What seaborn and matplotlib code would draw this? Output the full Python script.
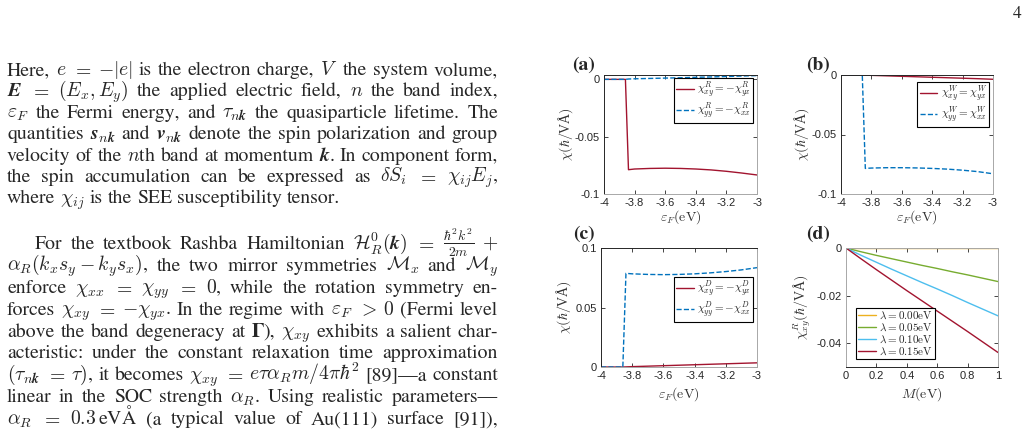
import matplotlib
matplotlib.use('Agg')
import matplotlib.pyplot as plt
import seaborn as sns

# Fermi energy grid for panels (a)-(c)
ef = [-4.0, -3.86, -3.84, -3.8, -3.7, -3.6, -3.5, -3.4, -3.3, -3.2, -3.1, -3.0]
# (a) Rashba part
chi_R_xy = [0, 0, -0.0788, -0.0782, -0.0777, -0.0775, -0.0777, -0.0782, -0.0790, -0.0802, -0.0817, -0.0834]
chi_R_yy = [0, 0, 0.0003, 0.0005, 0.0008, 0.0011, 0.0014, 0.0018, 0.0021, 0.0025, 0.0029, 0.0033]
# (b) Weyl part
chi_W_xy = [0, 0, -0.0001, -0.0003, -0.0007, -0.0011, -0.0015, -0.0019, -0.0023, -0.0027, -0.0031, -0.0036]
chi_W_yy = [0, 0, -0.0785, -0.0782, -0.0779, -0.0779, -0.0781, -0.0785, -0.0791, -0.0800, -0.0812, -0.0830]
# (c) Dresselhaus part
chi_D_xy = [0, 0, 0.0001, 0.0003, 0.0007, 0.0011, 0.0015, 0.0019, 0.0023, 0.0027, 0.0031, 0.0035]
chi_D_yy = [0, 0, 0.0787, 0.0783, 0.0778, 0.0776, 0.0778, 0.0783, 0.0791, 0.0802, 0.0816, 0.0835]
# (d) chi^R_xy vs M for several lambda
M = [0, 0.1, 0.2, 0.3, 0.4, 0.5, 0.6, 0.7, 0.8, 0.9, 1.0]
chi_l000 = [0, 0, 0, 0, 0, 0, 0, 0, 0, 0, 0]
chi_l005 = [0, -0.0016, -0.0031, -0.0045, -0.0059, -0.0073, -0.0086, -0.0100, -0.0113, -0.0127, -0.0141]
chi_l010 = [0, -0.0031, -0.0060, -0.0089, -0.0117, -0.0145, -0.0172, -0.0200, -0.0229, -0.0257, -0.0285]
chi_l015 = [0, -0.0046, -0.0091, -0.0135, -0.0179, -0.0222, -0.0265, -0.0308, -0.0351, -0.0395, -0.0439]
lambdas = ['0.00', '0.05', '0.10', '0.15']

ef_ticks = [-4, -3.8, -3.6, -3.4, -3.2, -3]
ef_ticklabels = ['-4', '-3.8', '-3.6', '-3.4', '-3.2', '-3']
m_ticks = [0, 0.2, 0.4, 0.6, 0.8, 1]
m_ticklabels = ['0', '0.2', '0.4', '0.6', '0.8', '1']

# body text: words split on spaces, '~' glues pieces, '!b' marks a bold piece
para1 = [
    r"Here, $e$ $=$ $-|e|$ is the electron charge, $V$ the system volume,",
    r"$\mathbfit{E}$ $=$ $(E_x,E_y)$ the applied electric field, $n$ the band index,",
    r"$\varepsilon_F$ the Fermi energy, and $\tau_{n\mathbfit{k}}$ the quasiparticle lifetime. The",
    r"quantities $\mathbfit{s}_{n\mathbfit{k}}$ and $\mathbfit{v}_{n\mathbfit{k}}$ denote the spin polarization and group",
    r"velocity of the $n$th band at momentum $\mathbfit{k}$. In component form,",
    r"the spin accumulation can be expressed as $\delta{}S_i$ $=$ $\chi_{ij}E_j$,",
    r"where $\chi_{ij}$ is the SEE susceptibility tensor.",
]
para2 = [
    r"For the textbook Rashba Hamiltonian $\mathcal{H}_R^0(\mathbfit{k})$ $=$ $\frac{\hbar^2k^2}{2m}$ $+$",
    r"$\alpha_R(k_xs_y-k_ys_x)$, the two mirror symmetries $\mathcal{M}_x$ and $\mathcal{M}_y$",
    r"enforce $\chi_{xx}$ $=$ $\chi_{yy}$ $=$ $0$, while the rotation symmetry en-",
    r"forces $\chi_{xy}$ $=$ $-\chi_{yx}$. In the regime with $\varepsilon_F$ $>$ $0$ (Fermi level",
    r"above the band degeneracy at !bΓ~), $\chi_{xy}$ exhibits a salient char-",
    r"acteristic: under the constant relaxation time approximation",
    r"$(\tau_{n\mathbfit{k}}$ $=$ $\tau)$, it becomes $\chi_{xy}$ $=$ $e\tau\alpha_Rm/4\pi\hbar^2$ [89]—a constant",
    r"linear in the SOC strength $\alpha_R$. Using realistic parameters—",
    r"$\alpha_R$ $=$ $0.3\,$eVÅ (a typical value of Au(111) surface [91]),",
]

sns.set_style('ticks')
plt.rcParams['font.family'] = ['STIXGeneral', 'DejaVu Sans']
plt.rcParams['mathtext.fontset'] = 'cm'
plt.rcParams['axes.unicode_minus'] = False

W, H = 1029, 432
fig = plt.figure(figsize=(W / 100, H / 100), dpi=100)
r = fig.canvas.get_renderer()

RED, BLUE = '#A2142F', '#0072BD'
TICKFONT = 'Liberation Sans'


def axes_px(x0, y0, x1, y1):
    return fig.add_axes([x0 / W, 1 - y1 / H, (x1 - x0) / W, (y1 - y0) / H])


def style(ax, xt, xtl, yt, ytl, dark):
    ax.set_xticks(xt)
    ax.set_xticklabels(xtl, fontfamily=TICKFONT, fontsize=8)
    ax.set_yticks(yt)
    ax.set_yticklabels(ytl, fontfamily=TICKFONT, fontsize=8)
    ax.tick_params(direction='in', length=3, width=0.6, top=True, right=True,
                   colors='#262626', pad=3)
    for s in ax.spines:
        ax.spines[s].set_visible(True)
        ax.spines[s].set_linewidth(0.7)
        ax.spines[s].set_color('#262626' if s in dark else '#a8a8a8')


def legend(ax, **kw):
    leg = ax.legend(fontsize=8, frameon=True, fancybox=False, edgecolor='black',
                    framealpha=1, handlelength=1.6, labelspacing=0.05, borderpad=0.2,
                    handletextpad=0.3, **kw)
    leg.get_frame().set_linewidth(0.8)


def labels(ax, xl, yl, xy, yx):
    ax.set_xlabel(xl, fontsize=10, color='#333333')
    ax.set_ylabel(yl, fontsize=10, color='#333333', fontfamily='Liberation Serif')
    ax.xaxis.set_label_coords(0.5, xy)
    ax.yaxis.set_label_coords(yx, 0.5)


dash = dict(linestyle='--', dashes=(3.6, 1.7))
ylab = r'$\chi(\hbar/$VÅ$)$'
xlab = r'$\varepsilon_F(\mathrm{eV})$'

# (a)
ax = axes_px(604, 75, 757, 194)
sns.lineplot(x=ef, y=chi_R_xy, ax=ax, color=RED, lw=1.0, label=r'$\chi^R_{xy}=-\chi^R_{yx}$')
sns.lineplot(x=ef, y=chi_R_yy, ax=ax, color=BLUE, lw=1.0, label=r'$\chi^R_{yy}=-\chi^R_{xx}$', **dash)
ax.set_xlim(-4, -3)
ax.set_ylim(-0.1, 0.0038)
style(ax, ef_ticks, ef_ticklabels, [-0.1, -0.05, 0], ['-0.1', '-0.05', '0'], ('left', 'top'))
legend(ax, loc='upper right', bbox_to_anchor=(0.975, 0.975), borderaxespad=0)
labels(ax, xlab, ylab, -0.12, -0.19)

# (b)
ax = axes_px(841, 75, 993, 194)
sns.lineplot(x=ef, y=chi_W_xy, ax=ax, color=RED, lw=1.0, label=r'$\chi^W_{xy}=\chi^W_{yx}$')
sns.lineplot(x=ef, y=chi_W_yy, ax=ax, color=BLUE, lw=1.0, label=r'$\chi^W_{yy}=\chi^W_{xx}$', **dash)
ax.set_xlim(-4, -3)
ax.set_ylim(-0.1, 0)
style(ax, ef_ticks, ef_ticklabels, [-0.1, -0.05, 0], ['-0.1', '-0.05', '0'], ('left', 'top'))
legend(ax, loc='upper right', bbox_to_anchor=(0.975, 0.94), borderaxespad=0)
labels(ax, xlab, ylab, -0.12, -0.2)

# (c)
ax = axes_px(601, 248, 757, 367)
sns.lineplot(x=ef, y=chi_D_xy, ax=ax, color=RED, lw=1.0, label=r'$\chi^D_{xy}=-\chi^D_{yx}$')
sns.lineplot(x=ef, y=chi_D_yy, ax=ax, color=BLUE, lw=1.0, label=r'$\chi^D_{yy}=-\chi^D_{xx}$', **dash)
ax.set_xlim(-4, -3)
ax.set_ylim(0, 0.1)
style(ax, ef_ticks, ef_ticklabels, [0, 0.05, 0.1], ['0', '0.05', '0.1'], ('left', 'top'))
legend(ax, loc='upper right', bbox_to_anchor=(0.975, 0.755), borderaxespad=0)
labels(ax, xlab, ylab, -0.15, -0.18)

# (d)
ax = axes_px(846, 248, 998, 367)
for ys, c, lam in zip([chi_l000, chi_l005, chi_l010, chi_l015],
                      ['#EDB120', '#77AC30', '#4DBEEE', RED], lambdas):
    sns.lineplot(x=M, y=ys, ax=ax, color=c, lw=1.0, label=r'$\lambda=%s\mathrm{eV}$' % lam)
ax.set_xlim(0, 1)
ax.set_ylim(-0.05, 0)
style(ax, m_ticks, m_ticklabels, [-0.04, -0.02, 0], ['-0.04', '-0.02', '0'], ('bottom',))
legend(ax, loc='lower left', bbox_to_anchor=(0.066, 0.067), borderaxespad=0)
labels(ax, r'$M(\mathrm{eV})$', r'$\chi^R_{xy}(\hbar/$VÅ$)$', -0.15, -0.22)

# panel letters
for lab, (px, py) in zip(['(a)', '(b)', '(c)', '(d)'],
                         [(584, 65), (818, 65), (584, 234), (818, 234)]):
    fig.text(px / W, 1 - py / H, lab, fontsize=14, fontweight='bold', ha='center', va='center')

# page number
fig.text(1017 / W, 1 - 14 / H, '4', fontsize=12.5, ha='center', va='center', color='#222222')

# body text, justified line by line
FS = 14.2


def put_line(line, y, x_start, x_end, justify):
    words = []
    for w in line.split(' '):
        parts = []
        for p in w.split('~'):
            bold = p.startswith('!b')
            t = fig.text(0, 1 - y / H, p[2:] if bold else p, fontsize=FS, va='baseline',
                         fontweight='bold' if bold else 'normal')
            parts.append((t, t.get_window_extent(renderer=r).width))
        words.append(parts)
    widths = [sum(pw for _, pw in parts) for parts in words]
    if justify and len(words) > 1:
        gap = (x_end - x_start - sum(widths)) / (len(words) - 1)
        gap = max(gap, 3)
    else:
        gap = FS * 100 / 72 * 0.25
    x = x_start
    for parts in words:
        for t, pw in parts:
            t.set_x(x / W)
            x += pw
        x += gap


for i, line in enumerate(para1):
    put_line(line, 75 + 21.4 * i, 7, 498, i < len(para1) - 1)
for i, line in enumerate(para2):
    put_line(line, 249 + 21.9 * i, 35 if i == 0 else 7, 498, True)

fig.savefig('out.png', dpi=100)
